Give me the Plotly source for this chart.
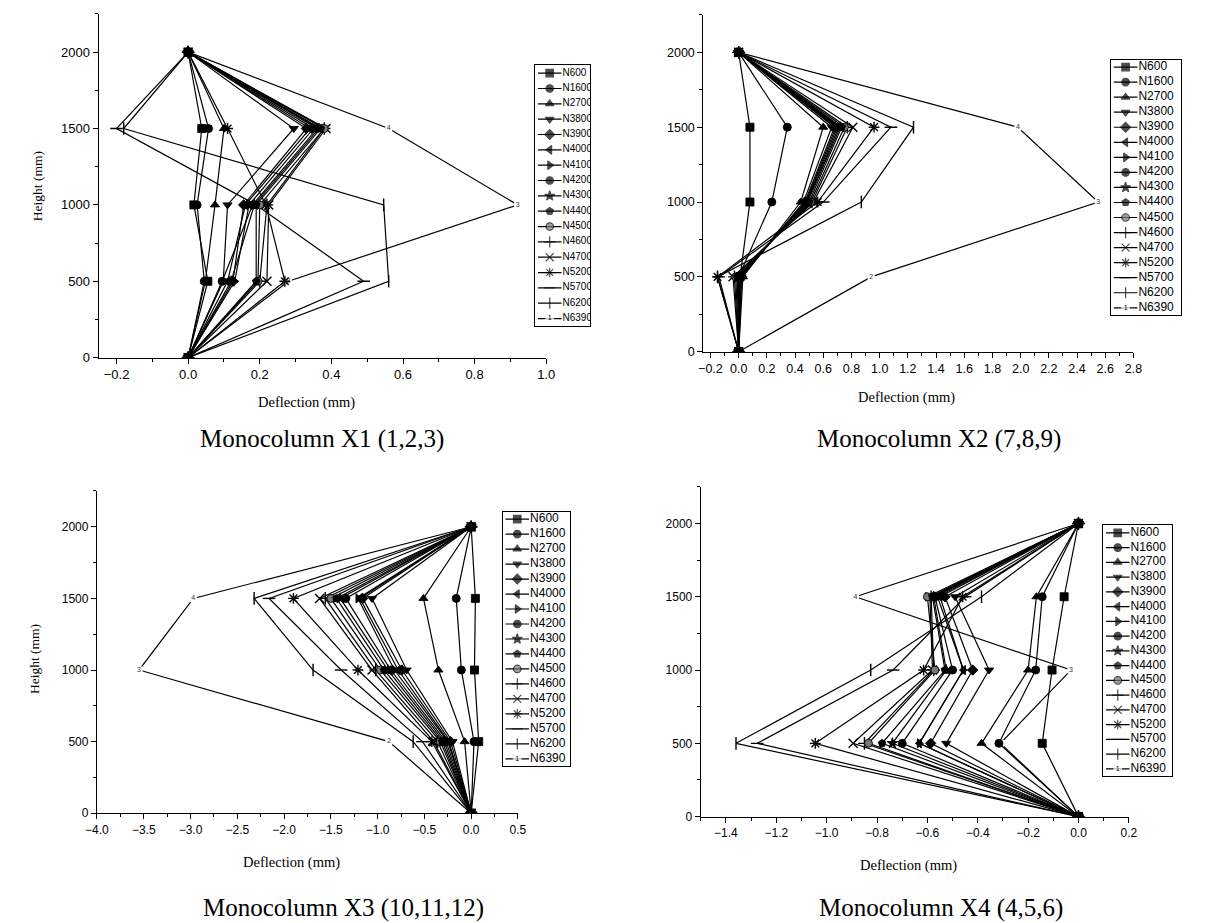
import plotly.graph_objects as go

# ---------------- data ----------------
heights = [0, 500, 1000, 1500, 2000]
series_names = ["N600", "N1600", "N2700", "N3800", "N3900", "N4000", "N4100", "N4200",
                "N4300", "N4400", "N4500", "N4600", "N4700", "N5200", "N5700", "N6200", "N6390"]
series_symbols = ["square", "circle", "triangle-up", "triangle-down", "diamond", "triangle-left",
                  "triangle-right", "circle", "star", "pentagon", "circle", "cross-thin",
                  "x-thin", "asterisk", "line-ew", "line-ns", "square"]
series_fill = ["black"] * 10 + ["#777777"] + ["black"] * 5 + ["white"]
point_numbers = ["1", "2", "3", "4", "5"]

# deflection (mm) at heights 0, 500, 1000, 1500, 2000 mm
x1_deflection = [
    [0, 0.055, 0.016, 0.038, 0],
    [0, 0.045, 0.025, 0.057, 0],
    [0, 0.048, 0.075, 0.100, 0],
    [0, 0.098, 0.110, 0.295, 0],
    [0, 0.125, 0.155, 0.330, 0],
    [0, 0.110, 0.160, 0.340, 0],
    [0, 0.130, 0.170, 0.350, 0],
    [0, 0.095, 0.180, 0.360, 0],
    [0, 0.120, 0.185, 0.365, 0],
    [0, 0.190, 0.190, 0.370, 0],
    [0, 0.195, 0.200, 0.380, 0],
    [0, 0.200, 0.220, 0.380, 0],
    [0, 0.220, 0.225, 0.385, 0],
    [0, 0.270, 0.217, 0.110, 0],
    [0, 0.490, 0.190, -0.200, 0],
    [0, 0.560, 0.546, -0.180, 0],
    [0, 0.280, 0.920, 0.560, 0],
]
x2_deflection = [
    [0, 0.010, 0.080, 0.080, 0],
    [0, 0.000, 0.235, 0.345, 0],
    [0, 0.030, 0.440, 0.600, 0],
    [0, 0.020, 0.460, 0.660, 0],
    [0, 0.020, 0.470, 0.680, 0],
    [0, 0.010, 0.475, 0.690, 0],
    [0, 0.010, 0.480, 0.700, 0],
    [0, 0.000, 0.485, 0.710, 0],
    [0, 0.000, 0.490, 0.720, 0],
    [0, -0.010, 0.500, 0.730, 0],
    [0, -0.020, 0.510, 0.750, 0],
    [0, -0.030, 0.520, 0.770, 0],
    [0, -0.040, 0.530, 0.810, 0],
    [0, -0.150, 0.560, 0.960, 0],
    [0, -0.140, 0.600, 1.080, 0],
    [0, -0.150, 0.870, 1.240, 0],
    [0, 0.940, 2.550, 1.980, 0],
]
x3_deflection = [
    [0, 0.080, 0.035, 0.045, 0],
    [0, 0.030, -0.105, -0.160, 0],
    [0, -0.070, -0.350, -0.510, 0],
    [0, -0.200, -0.690, -1.060, 0],
    [0, -0.220, -0.740, -1.160, 0],
    [0, -0.240, -0.780, -1.190, 0],
    [0, -0.250, -0.820, -1.210, 0],
    [0, -0.270, -0.860, -1.340, 0],
    [0, -0.290, -0.890, -1.400, 0],
    [0, -0.310, -0.930, -1.440, 0],
    [0, -0.330, -0.970, -1.500, 0],
    [0, -0.360, -1.020, -1.560, 0],
    [0, -0.400, -1.060, -1.620, 0],
    [0, -0.420, -1.210, -1.900, 0],
    [0, -0.520, -1.390, -2.160, 0],
    [0, -0.620, -1.690, -2.320, 0],
    [0, -0.880, -3.550, -2.970, 0],
]
x4_deflection = [
    [0, -0.144, -0.105, -0.057, 0],
    [0, -0.316, -0.170, -0.144, 0],
    [0, -0.385, -0.200, -0.167, 0],
    [0, -0.525, -0.355, -0.490, 0],
    [0, -0.587, -0.420, -0.530, 0],
    [0, -0.632, -0.457, -0.550, 0],
    [0, -0.632, -0.457, -0.560, 0],
    [0, -0.700, -0.500, -0.570, 0],
    [0, -0.739, -0.525, -0.575, 0],
    [0, -0.780, -0.530, -0.580, 0],
    [0, -0.834, -0.570, -0.600, 0],
    [0, -0.850, -0.575, -0.585, 0],
    [0, -0.895, -0.580, -0.590, 0],
    [0, -1.045, -0.615, -0.460, 0],
    [0, -1.276, -0.736, -0.450, 0],
    [0, -1.360, -0.825, -0.385, 0],
    [0, -0.310, -0.030, -0.886, 0],
]

captions = ["Monocolumn X1 (1,2,3)", "Monocolumn X2 (7,8,9)",
            "Monocolumn X3 (10,11,12)", "Monocolumn X4 (4,5,6)"]
x_ranges = [[-0.25, 1.0], [-0.25, 2.8], [-4.0, 0.5], [-1.5, 0.2]]
x_dticks = [0.2, 0.2, 0.5, 0.2]
y_range = [0, 2250]

# ---------------- layout geometry (pixels) ----------------
W, H = 1218, 923
SANS = "Liberation Sans, Arial, sans-serif"
SERIF = "Liberation Serif, Times New Roman, serif"

panel_boxes = [  # left, right, top, bottom
    (80, 535.5, 6, 352.7),
    (695.4, 1133, 7, 346.7),
    (78.3, 506.7, 487.2, 812.3),
    (692.7, 1128.3, 483, 815.7),
]
legend_boxes = [
    (524, 580, 58, 321),
    (1110, 1181, 52, 310),
    (491, 560, 508, 765),
    (1102, 1172, 522, 775),
]
tick_font_sizes = [13, 12.5, 12, 12]
legend_font_sizes = [10, 12, 12, 12]
caption_pos = [(307, 435), (935, 435), (329, 908), (937, 908)]
xtitle_pos = [(292, 398), (902, 393), (276, 862), (904, 865)]
ytitle_pos = [(18, 180), None, (15, 657), None]


def fx(px):
    return px / W


def fy(px):
    return 1 - px / H


all_deflections = [x1_deflection, x2_deflection, x3_deflection, x4_deflection]
THIN = ("cross-thin", "x-thin", "asterisk", "line-ew", "line-ns")

fig = go.Figure()
layout = dict(
    width=W, height=H, margin=dict(l=0, r=0, t=0, b=0),
    paper_bgcolor="white", plot_bgcolor="white", showlegend=False,
    hovermode=False, annotations=[],
)

for p in range(4):
    xa = "x" if p == 0 else f"x{p+1}"
    ya = "y" if p == 0 else f"y{p+1}"
    l, r, t, b = panel_boxes[p]
    fs = tick_font_sizes[p]
    axis_common = dict(
        showline=True, linecolor="black", linewidth=1.2, showgrid=False, zeroline=False,
        ticks="outside", ticklen=5, tickwidth=1, tickcolor="black",
        tickfont=dict(family=SANS, size=fs, color="black"),
    )
    layout["xaxis" if p == 0 else f"xaxis{p+1}"] = dict(
        axis_common, domain=[fx(l), fx(r)], range=x_ranges[p], anchor=ya,
        dtick=x_dticks[p], tick0=0, tickformat=".1f",
        minor=dict(dtick=x_dticks[p] / 2, ticks="outside", ticklen=3, tickcolor="black"),
    )
    layout["yaxis" if p == 0 else f"yaxis{p+1}"] = dict(
        axis_common, domain=[fy(b), fy(t)], range=y_range, anchor=xa,
        dtick=500, tick0=0,
        minor=dict(dtick=250, ticks="outside", ticklen=3, tickcolor="black"),
    )

    data = all_deflections[p]
    # draw in reverse order so the point-numbered series sits underneath
    for i in reversed(range(len(series_names))):
        sym = series_symbols[i]
        if series_names[i] == "N6390":
            fig.add_trace(go.Scatter(
                x=data[i], y=heights, xaxis=xa, yaxis=ya, mode="lines+markers+text",
                line=dict(color="black", width=1.2),
                marker=dict(symbol="square", color="white", size=7, line=dict(width=0)),
                text=point_numbers, textposition="middle center",
                textfont=dict(family=SANS, size=7, color="#333"),
                hoverinfo="skip",
            ))
        else:
            thin = sym in THIN
            fig.add_trace(go.Scatter(
                x=data[i], y=heights, xaxis=xa, yaxis=ya, mode="lines+markers",
                line=dict(color="black", width=1.2),
                marker=dict(symbol=sym, color=series_fill[i], size=9 if thin else 8,
                            line=dict(color="black", width=1.4 if thin else 0.9)),
                hoverinfo="skip",
            ))

    # ---------- custom legend box as an auxiliary subplot ----------
    ll, lr, lt, lb = legend_boxes[p]
    lw = lr - ll
    n = len(series_names)
    lxa, lya = f"x{p+5}", f"y{p+5}"
    layout[f"xaxis{p+5}"] = dict(domain=[fx(ll), fx(lr)], range=[0, lw], anchor=lya,
                                 showline=True, mirror=True, linecolor="black", linewidth=1,
                                 showticklabels=False, ticks="", showgrid=False, zeroline=False)
    layout[f"yaxis{p+5}"] = dict(domain=[fy(lb), fy(lt)], range=[n, 0], anchor=lxa,
                                 showline=True, mirror=True, linecolor="black", linewidth=1,
                                 showticklabels=False, ticks="", showgrid=False, zeroline=False)
    seg_x, seg_y = [], []
    for i in range(n):
        seg_x += [3, 27, None]
        seg_y += [i + 0.5, i + 0.5, None]
    fig.add_trace(go.Scatter(x=seg_x, y=seg_y, xaxis=lxa, yaxis=lya, mode="lines",
                             line=dict(color="black", width=1.2), hoverinfo="skip"))
    mk_sizes = [8 if s in THIN else 7.5 for s in series_symbols]
    mk_text = [point_numbers[0] if nm == "N6390" else "" for nm in series_names]
    fig.add_trace(go.Scatter(
        x=[15] * n, y=[i + 0.5 for i in range(n)], xaxis=lxa, yaxis=lya,
        mode="markers+text",
        marker=dict(symbol=series_symbols, color=series_fill, size=mk_sizes,
                    line=dict(color=["white" if nm == "N6390" else "black" for nm in series_names],
                              width=1.2)),
        text=mk_text, textposition="middle center",
        textfont=dict(family=SANS, size=7, color="black"), hoverinfo="skip"))
    fig.add_trace(go.Scatter(
        x=[28] * n, y=[i + 0.5 for i in range(n)], xaxis=lxa, yaxis=lya, mode="text",
        text=series_names, textposition="middle right",
        textfont=dict(family=SANS, size=legend_font_sizes[p], color="black"), hoverinfo="skip"))

    # ---------- titles ----------
    cx, cy = caption_pos[p]
    layout["annotations"].append(dict(
        text=captions[p], x=fx(cx), y=fy(cy), xref="paper", yref="paper",
        showarrow=False, xanchor="center", yanchor="middle",
        font=dict(family=SERIF, size=25, color="black")))
    tx, ty = xtitle_pos[p]
    layout["annotations"].append(dict(
        text="Deflection (mm)", x=fx(tx), y=fy(ty), xref="paper", yref="paper",
        showarrow=False, xanchor="center", yanchor="middle",
        font=dict(family=SERIF, size=14.5, color="black")))
    if ytitle_pos[p] is not None:
        hx, hy = ytitle_pos[p]
        layout["annotations"].append(dict(
            text="Height (mm)", x=fx(hx), y=fy(hy), xref="paper", yref="paper",
            showarrow=False, xanchor="center", yanchor="middle", textangle=-90,
            font=dict(family=SERIF, size=13.5, color="black")))

fig.update_layout(**layout)
fig.write_html("out.html")
